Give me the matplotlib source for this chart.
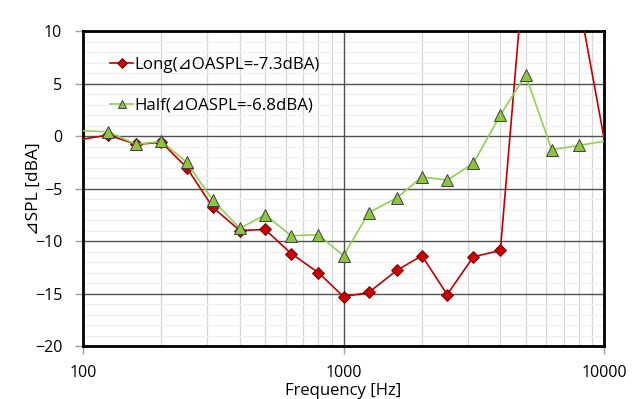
import matplotlib
matplotlib.use("Agg")
import matplotlib.pyplot as plt
from matplotlib.ticker import FixedLocator, MultipleLocator, NullFormatter

plt.rcParams['font.family'] = ['Open Sans', 'DejaVu Sans']

# 1/3 octave band centre frequencies [Hz]
freq = [100, 125, 160, 200, 250, 315, 400, 500, 630, 800, 1000,
        1250, 1600, 2000, 2500, 3150, 4000, 5000, 6300, 8000, 10000]

# delta SPL per band [dBA]
long_spl = [-0.3, 0.1, -0.8, -0.6, -3.0, -6.8, -9.0, -8.9, -11.2, -13.0, -15.3,
            -14.9, -12.8, -11.4, -15.1, -11.5, -10.9, 17.7, 18.0, 12.9, -0.2]
half_spl = [0.5, 0.4, -0.8, -0.5, -2.5, -6.1, -8.8, -7.5, -9.5, -9.4, -11.4,
            -7.3, -5.9, -3.9, -4.2, -2.6, 2.0, 5.8, -1.3, -0.9, -0.5]

long_label = "Long(⊿OASPL=-7.3dBA)"
half_label = "Half(⊿OASPL=-6.8dBA)"

fig = plt.figure(figsize=(6.41, 3.99), dpi=100)
ax = fig.add_axes([0.1295, 0.1328, 0.8128, 0.7895])

# markers only on the inner bands, end points sit on the frame
marks = list(range(1, len(freq) - 1))

ax.plot(freq, long_spl, color="#c00000", linewidth=1.2,
        marker="D", markersize=6, markerfacecolor="#cc0000",
        markeredgecolor="#600000", markeredgewidth=0.6,
        markevery=marks, label=long_label, zorder=4)
ax.plot(freq, half_spl, color="#92d050", linewidth=1.2,
        marker="^", markersize=8, markerfacecolor="#8cc63f",
        markeredgecolor="#404040", markeredgewidth=0.7,
        markevery=marks, label=half_label, zorder=5)

ax.set_xscale("log")
ax.set_xlim(100, 10000)
ax.set_ylim(-20, 10)

ax.xaxis.set_major_locator(FixedLocator([100, 1000, 10000]))
ax.xaxis.set_minor_locator(FixedLocator([k * 10 ** e for e in (2, 3) for k in range(2, 10)]))
ax.xaxis.set_minor_formatter(NullFormatter())
ax.set_xticklabels(["100", "1000", "10000"])
ax.yaxis.set_major_locator(MultipleLocator(5))
ax.yaxis.set_minor_locator(MultipleLocator(1))

# grid: dark majors, light minors
ax.grid(True, which="major", axis="y", color="#505050", linewidth=1.0)
ax.grid(True, which="minor", axis="x", color="#d6d6d6", linewidth=0.9)
ax.grid(True, which="minor", axis="y", color="#efefef", linewidth=0.8)
ax.set_axisbelow(True)
# the 1000 Hz decade line sits on top of the light grid
ax.axvline(1000, color="#505050", linewidth=1.0, zorder=0.9)

ax.tick_params(which="major", length=6, width=1, color="#a0a0a0", labelsize=11.5)
ax.tick_params(which="minor", length=0)
ax.tick_params(axis="x", pad=8)
ax.tick_params(axis="y", pad=9)

for s in ax.spines.values():
    s.set_linewidth(2)
    s.set_color("black")

ax.set_xlabel("Frequency [Hz]", fontsize=12, labelpad=1)
ax.set_ylabel("⊿SPL [dBA]", fontsize=12.5)
ax.yaxis.set_label_coords(-0.079, 0.5)

ax.legend(loc="upper left", bbox_to_anchor=(0.022, 0.965), frameon=False,
          fontsize=12.2, handlelength=1.4, handletextpad=0.05,
          labelspacing=1.45, markerscale=0.8)

fig.savefig("out.png", dpi=100)
